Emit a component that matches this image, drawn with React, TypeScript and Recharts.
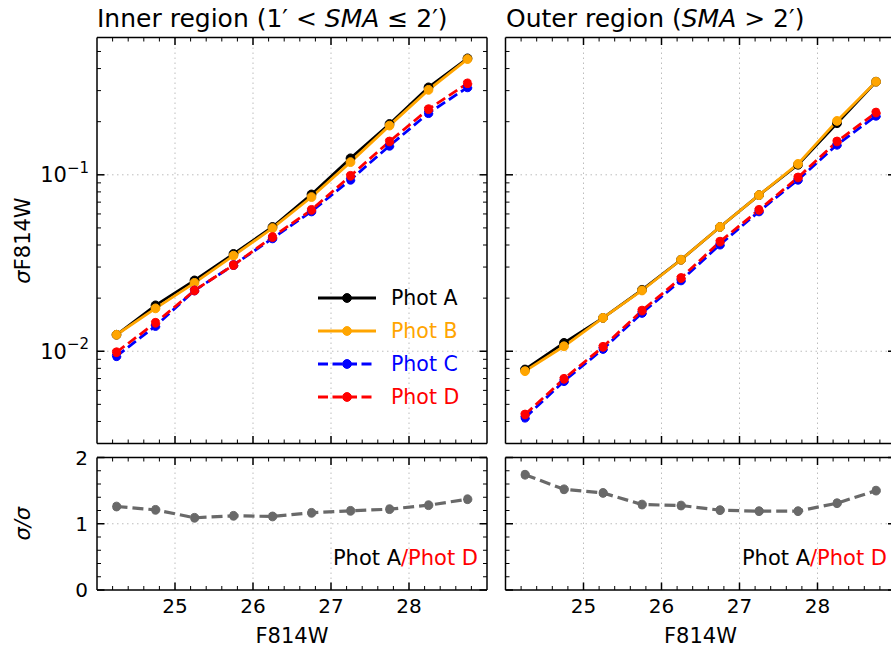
import React from 'react';
import { LineChart, Line, XAxis, YAxis, CartesianGrid, Legend } from 'recharts';

const FONT = '"DejaVu Sans", Verdana, sans-serif';

// ---- data ----
const mags = [24.25, 24.75, 25.25, 25.75, 26.25, 26.75, 27.25, 27.75, 28.25, 28.75];

const innerPhotA = [0.0124, 0.0182, 0.0252, 0.0356, 0.0506, 0.0774, 0.124, 0.194, 0.313, 0.457];
const innerPhotB = [0.0124, 0.0175, 0.0244, 0.0348, 0.0499, 0.0748, 0.118, 0.19, 0.303, 0.453];
const innerPhotC = [0.00937, 0.0139, 0.0221, 0.0308, 0.0436, 0.062, 0.0937, 0.146, 0.2235, 0.313];
const innerPhotD = [0.00987, 0.0145, 0.0221, 0.0308, 0.0444, 0.0633, 0.0987, 0.1545, 0.2355, 0.33];

const outerPhotA = [0.00788, 0.01115, 0.01545, 0.0223, 0.033, 0.0506, 0.0767, 0.114, 0.196, 0.337];
const outerPhotB = [0.00771, 0.01067, 0.01545, 0.0221, 0.033, 0.0506, 0.0767, 0.1153, 0.202, 0.337];
const outerPhotC = [0.0042, 0.00677, 0.0103, 0.01648, 0.0252, 0.0402, 0.062, 0.0937, 0.148, 0.216];
const outerPhotD = [0.00438, 0.00698, 0.0106, 0.017, 0.026, 0.0418, 0.0633, 0.0966, 0.1545, 0.2254];

const innerRatio = [1.26, 1.21, 1.09, 1.12, 1.11, 1.165, 1.195, 1.22, 1.28, 1.37];
const outerRatio = [1.74, 1.52, 1.465, 1.29, 1.275, 1.205, 1.19, 1.19, 1.31, 1.5];

// ---- ticks ----
const xMajor = [25, 26, 27, 28];
const xTicks = [24.2, 24.4, 24.6, 24.8, 25, 25.2, 25.4, 25.6, 25.8, 26, 26.2, 26.4, 26.6, 26.8, 27,
  27.2, 27.4, 27.6, 27.8, 28, 28.2, 28.4, 28.6, 28.8];
const yLogMajor = [0.01, 0.1];
const yLogTicks = [0.004, 0.005, 0.006, 0.007, 0.008, 0.009, 0.01, 0.02, 0.03, 0.04, 0.05, 0.06, 0.07,
  0.08, 0.09, 0.1, 0.2, 0.3, 0.4, 0.5];
const ratioMajor = [0, 1, 2];
const ratioTicks = [0, 0.2, 0.4, 0.6, 0.8, 1, 1.2, 1.4, 1.6, 1.8, 2];

const seriesDefs = [
  { key: 'a', name: 'Phot A', color: '#000000', dash: undefined as string | undefined },
  { key: 'b', name: 'Phot B', color: '#FFA500', dash: undefined as string | undefined },
  { key: 'c', name: 'Phot C', color: '#0000FF', dash: '10 4.5' },
  { key: 'd', name: 'Phot D', color: '#FF0000', dash: '10 4.5' },
];

const innerData = mags.map((m, i) => ({ mag: m, a: innerPhotA[i], b: innerPhotB[i], c: innerPhotC[i], d: innerPhotD[i], r: innerRatio[i] }));
const outerData = mags.map((m, i) => ({ mag: m, a: outerPhotA[i], b: outerPhotB[i], c: outerPhotC[i], d: outerPhotD[i], r: outerRatio[i] }));

// ---- layout ----
const CW = 900;
const CH = 650;
const COLS = [97, 505.5];
const PW = 390;
const TOP = { y0: 37.5, y1: 443.5 };
const BOT = { y0: 457.5, y1: 590 };
const LW = 2.8;
const DOT_R = 4.4;

type Side = 'left' | 'right' | 'top' | 'bottom';

function makeTick(side: Side, majors: number[], label: 'num' | 'pow' | null) {
  return (props: any) => {
    const { x, y, payload } = props;
    const v = payload.value;
    const isMajor = majors.some((m) => Math.abs(m - v) < 1e-9);
    const len = isMajor ? 7.5 : 4;
    const sw = isMajor ? 1.5 : 1;
    let x2 = x;
    let y2 = y;
    if (side === 'bottom') y2 = y - len;
    if (side === 'top') y2 = y + len;
    if (side === 'left') x2 = x + len;
    if (side === 'right') x2 = x - len;
    let lab: React.ReactNode = null;
    if (isMajor && label === 'num') {
      if (side === 'bottom') {
        lab = (
          <text x={x} y={y + 22.5} textAnchor="middle" fontSize={20} fontFamily={FONT} fill="#000">{String(v)}</text>
        );
      } else {
        lab = (
          <text x={x - 9} y={y + 7} textAnchor="end" fontSize={20} fontFamily={FONT} fill="#000">{String(v)}</text>
        );
      }
    }
    if (isMajor && label === 'pow') {
      const exp = Math.round(Math.log10(v));
      lab = (
        <text x={x - 8} y={y + 7.5} textAnchor="end" fontSize={21} fontFamily={FONT} fill="#000">
          <tspan>10</tspan>
          <tspan dy={-9.5} fontSize={15}>{'\u2212' + Math.abs(exp)}</tspan>
        </text>
      );
    }
    return (
      <g>
        <line x1={x} y1={y} x2={x2} y2={y2} stroke="#000" strokeWidth={sw} />
        {lab}
      </g>
    );
  };
}

const renderLegend = (props: any) => {
  const payload: any[] = props.payload || [];
  return (
    <div style={{ fontFamily: FONT }}>
      {payload.map((entry: any) => {
        const def = seriesDefs.find((s) => s.name === entry.value);
        const color = def ? def.color : entry.color;
        const dash = def ? def.dash : undefined;
        return (
          <div key={entry.value} style={{ display: 'flex', alignItems: 'center', height: 33 }}>
            <svg width={60} height={14} style={{ display: 'block' }}>
              <line x1={1} y1={7} x2={59} y2={7} stroke={color} strokeWidth={LW} strokeDasharray={dash} />
              <circle cx={30} cy={7} r={DOT_R} fill={color} stroke={color} strokeWidth={1} />
            </svg>
            <span style={{ marginLeft: 14, fontSize: 20.5, color, lineHeight: '20px' }}>{entry.value}</span>
          </div>
        );
      })}
    </div>
  );
};

function TopPanel({ data, col, legend, ylabel }: { data: any[]; col: number; legend: boolean; ylabel: boolean }) {
  const left = COLS[col];
  const margin = { left: left - 50, right: CW - (left + PW) - 10, top: TOP.y0 - 10, bottom: CH - TOP.y1 - 10 };
  return (
    <div style={{ position: 'absolute', left: 0, top: 0 }}>
      <LineChart width={CW} height={CH} data={data} margin={margin}>
        <CartesianGrid xAxisId="b" yAxisId="l" horizontal={true} vertical={true}
          horizontalValues={yLogMajor} verticalValues={xMajor}
          stroke="#bdbdbd" strokeDasharray="1.5 3.5" strokeWidth={1} />
        <XAxis xAxisId="b" dataKey="mag" type="number" domain={[24, 29]} ticks={xTicks} interval={0}
          orientation="bottom" height={10} tickSize={0} tickMargin={0} allowDataOverflow
          axisLine={{ stroke: '#000', strokeWidth: 1.5 }} tickLine={false} tick={makeTick('bottom', xMajor, null)} />
        <XAxis xAxisId="t" dataKey="mag" type="number" domain={[24, 29]} ticks={xTicks} interval={0}
          orientation="top" height={10} tickSize={0} tickMargin={0} allowDataOverflow
          axisLine={{ stroke: '#000', strokeWidth: 1.5 }} tickLine={false} tick={makeTick('top', xMajor, null)} />
        <YAxis yAxisId="l" scale="log" type="number" domain={[0.003, 0.6]} ticks={yLogTicks} interval={0}
          orientation="left" width={50} tickSize={0} tickMargin={0} allowDataOverflow
          axisLine={{ stroke: '#000', strokeWidth: 1.5 }} tickLine={false}
          tick={makeTick('left', yLogMajor, ylabel ? 'pow' : null)} />
        <YAxis yAxisId="r" scale="log" type="number" domain={[0.003, 0.6]} ticks={yLogTicks} interval={0}
          orientation="right" width={10} tickSize={0} tickMargin={0} allowDataOverflow
          axisLine={{ stroke: '#000', strokeWidth: 1.5 }} tickLine={false} tick={makeTick('right', yLogMajor, null)} />
        {seriesDefs.map((s) => (
          <Line key={s.key} xAxisId="b" yAxisId="l" type="linear" dataKey={s.key} name={s.name}
            stroke={s.color} strokeWidth={LW} strokeDasharray={s.dash}
            dot={{ r: DOT_R, fill: s.color, stroke: s.color, strokeWidth: 1 }}
            activeDot={false} isAnimationActive={false} />
        ))}
        {legend && (
          <Legend layout="vertical" align="center" verticalAlign="middle" content={renderLegend}
            wrapperStyle={{ left: 317, top: 281, width: 170, height: 132 }} />
        )}
      </LineChart>
    </div>
  );
}

function BottomPanel({ data, col, ylabel }: { data: any[]; col: number; ylabel: boolean }) {
  const left = COLS[col];
  const margin = { left: left - 50, right: CW - (left + PW) - 10, top: BOT.y0 - 10, bottom: CH - BOT.y1 - 10 };
  return (
    <div style={{ position: 'absolute', left: 0, top: 0 }}>
      <LineChart width={CW} height={CH} data={data} margin={margin}>
        <CartesianGrid xAxisId="b" yAxisId="l" horizontal={true} vertical={true}
          horizontalValues={[1]} verticalValues={xMajor}
          stroke="#bdbdbd" strokeDasharray="1.5 3.5" strokeWidth={1} />
        <XAxis xAxisId="b" dataKey="mag" type="number" domain={[24, 29]} ticks={xTicks} interval={0}
          orientation="bottom" height={10} tickSize={0} tickMargin={0} allowDataOverflow
          axisLine={{ stroke: '#000', strokeWidth: 1.5 }} tickLine={false} tick={makeTick('bottom', xMajor, 'num')} />
        <XAxis xAxisId="t" dataKey="mag" type="number" domain={[24, 29]} ticks={xTicks} interval={0}
          orientation="top" height={10} tickSize={0} tickMargin={0} allowDataOverflow
          axisLine={{ stroke: '#000', strokeWidth: 1.5 }} tickLine={false} tick={makeTick('top', xMajor, null)} />
        <YAxis yAxisId="l" type="number" domain={[0, 2]} ticks={ratioTicks} interval={0}
          orientation="left" width={50} tickSize={0} tickMargin={0} allowDataOverflow
          axisLine={{ stroke: '#000', strokeWidth: 1.5 }} tickLine={false}
          tick={makeTick('left', ratioMajor, ylabel ? 'num' : null)} />
        <YAxis yAxisId="r" type="number" domain={[0, 2]} ticks={ratioTicks} interval={0}
          orientation="right" width={10} tickSize={0} tickMargin={0} allowDataOverflow
          axisLine={{ stroke: '#000', strokeWidth: 1.5 }} tickLine={false} tick={makeTick('right', ratioMajor, null)} />
        <Line xAxisId="b" yAxisId="l" type="linear" dataKey="r" name="ratio"
          stroke="#696969" strokeWidth={3.2} strokeDasharray="11 5"
          dot={{ r: DOT_R, fill: '#696969', stroke: '#696969', strokeWidth: 1 }}
          activeDot={false} isAnimationActive={false} />
      </LineChart>
    </div>
  );
}

export default function App() {
  const midTop = (TOP.y0 + TOP.y1) / 2;
  const midBot = (BOT.y0 + BOT.y1) / 2;
  return (
    <div style={{ position: 'absolute', left: 0, top: 0, width: 891, height: 650, overflow: 'hidden', background: '#fff', fontFamily: FONT }}>
      <TopPanel data={innerData} col={0} legend={true} ylabel={true} />
      <TopPanel data={outerData} col={1} legend={false} ylabel={false} />
      <BottomPanel data={innerData} col={0} ylabel={true} />
      <BottomPanel data={outerData} col={1} ylabel={false} />
      <svg width={891} height={650} style={{ position: 'absolute', left: 0, top: 0, pointerEvents: 'none' }}>
        <g fontFamily={FONT} fill="#000">
          <text x={97} y={27} fontSize={25}>
            {'Inner region (1\u2032 < '}<tspan fontStyle="italic">SMA</tspan>{' \u2264 2\u2032)'}
          </text>
          <text x={506} y={27} fontSize={25}>
            {'Outer region ('}<tspan fontStyle="italic">SMA</tspan>{' > 2\u2032)'}
          </text>
          <text x={30} y={midTop} fontSize={21} textAnchor="middle" transform={`rotate(-90 30 ${midTop})`}>
            <tspan fontStyle="italic">σ</tspan>F814W
          </text>
          <text x={30} y={midBot} fontSize={21} textAnchor="middle" transform={`rotate(-90 30 ${midBot})`}>
            <tspan fontStyle="italic">σ/σ</tspan>
          </text>
          <text x={COLS[0] + PW / 2} y={643} fontSize={21} textAnchor="middle">F814W</text>
          <text x={COLS[1] + PW / 2} y={643} fontSize={21} textAnchor="middle">F814W</text>
          <text x={478} y={565} fontSize={21} textAnchor="end">
            <tspan fill="#000">Phot A</tspan><tspan fill="#FF0000">/Phot D</tspan>
          </text>
          <text x={887} y={565} fontSize={21} textAnchor="end">
            <tspan fill="#000">Phot A</tspan><tspan fill="#FF0000">/Phot D</tspan>
          </text>
        </g>
      </svg>
    </div>
  );
}
